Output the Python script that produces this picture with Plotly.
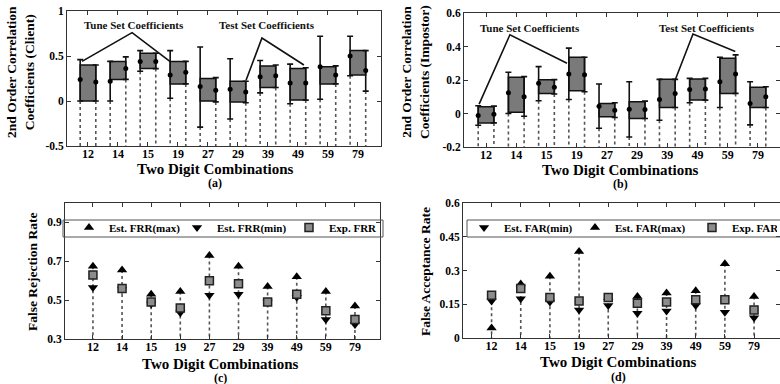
import plotly.graph_objects as go

combos = ["12", "14", "15", "19", "27", "29", "39", "49", "59", "79"]

# (a) 2nd order correlation coefficients (Client)
client_tune_lo = [0.00, 0.00, 0.33, 0.03, -0.29, -0.20, 0.09, -0.03, 0.02, 0.28]
client_tune_mean = [0.24, 0.22, 0.44, 0.29, 0.16, 0.13, 0.27, 0.20, 0.38, 0.50]
client_tune_hi = [0.46, 0.44, 0.56, 0.56, 0.60, 0.47, 0.45, 0.41, 0.72, 0.72]
client_test_lo = [0.00, 0.24, 0.36, 0.19, -0.01, -0.02, 0.15, 0.01, 0.19, 0.11]
client_test_mean = [0.21, 0.36, 0.44, 0.32, 0.12, 0.10, 0.28, 0.20, 0.29, 0.34]
client_test_hi = [0.40, 0.49, 0.53, 0.44, 0.26, 0.22, 0.40, 0.37, 0.39, 0.56]
client_box_lo = [0.00, 0.24, 0.36, 0.19, 0.00, -0.01, 0.15, 0.01, 0.19, 0.29]
client_box_hi = [0.40, 0.44, 0.53, 0.44, 0.25, 0.22, 0.39, 0.36, 0.38, 0.56]

# (b) 2nd order correlation coefficients (Impostor)
imp_tune_lo = [-0.07, 0.00, 0.076, 0.084, -0.088, -0.14, -0.04, 0.064, 0.036, -0.068]
imp_tune_mean = [-0.012, 0.124, 0.18, 0.236, 0.044, 0.026, 0.084, 0.144, 0.19, 0.06]
imp_tune_hi = [0.046, 0.246, 0.28, 0.39, 0.176, 0.19, 0.204, 0.21, 0.336, 0.19]
imp_test_lo = [-0.056, -0.016, 0.116, 0.13, -0.024, -0.03, 0.036, 0.08, 0.12, 0.036]
imp_test_mean = [-0.004, 0.10, 0.156, 0.232, 0.02, 0.024, 0.12, 0.146, 0.236, 0.10]
imp_test_hi = [0.044, 0.22, 0.202, 0.336, 0.064, 0.074, 0.204, 0.21, 0.35, 0.16]
imp_box_lo = [-0.056, 0.008, 0.12, 0.136, -0.02, -0.03, 0.036, 0.08, 0.12, 0.036]
imp_box_hi = [0.04, 0.216, 0.202, 0.336, 0.06, 0.07, 0.204, 0.206, 0.33, 0.156]

# (c) False Rejection Rate
frr_max = [0.675, 0.655, 0.53, 0.545, 0.73, 0.675, 0.57, 0.62, 0.545, 0.47]
frr_min = [0.565, 0.555, 0.48, 0.435, 0.525, 0.53, 0.49, 0.515, 0.40, 0.375]
frr_exp = [0.63, 0.56, 0.49, 0.46, 0.60, 0.585, 0.49, 0.53, 0.445, 0.40]

# (d) False Acceptance Rate
far_min = [0.165, 0.175, 0.16, 0.125, 0.145, 0.11, 0.12, 0.145, 0.115, 0.09]
far_max = [0.045, 0.24, 0.275, 0.385, 0.18, 0.185, 0.20, 0.21, 0.33, 0.185]
far_exp = [0.19, 0.22, 0.18, 0.165, 0.18, 0.155, 0.16, 0.17, 0.17, 0.125]

# axis tick labels
ticks_a = [-0.5, 0, 0.5, 1]
ticklabels_a = ["-0.5", "0", "0.5", "1"]
ticks_b = [-0.2, 0, 0.2, 0.4, 0.6]
ticklabels_b = ["-0.2", "0", "0.2", "0.4", "0.6"]
ticks_c = [0.3, 0.5, 0.7, 0.9]
ticklabels_c = ["0.3", "0.5", "0.7", "0.9"]
ticks_d = [0, 0.15, 0.3, 0.45, 0.6]
ticklabels_d = ["0", "0.15", "0.3", "0.45", "0.6"]

FONT = "Liberation Serif"
idx = list(range(len(combos)))
OFF = 0.26
STEM = dict(color="#555555", width=1.6, dash="dot")

fig = go.Figure()


def stems(xs, tops, bottom, xa, ya):
    sx, sy = [], []
    for x, t in zip(xs, tops):
        sx += [x, x, None]
        sy += [t, bottom, None]
    fig.add_trace(go.Scatter(x=sx, y=sy, mode="lines", line=STEM, showlegend=False,
                             hoverinfo="skip", xaxis=xa, yaxis=ya))


def corr_panel(tlo, tmean, thi, slo, smean, shi, blo, bhi, ymin, xa, ya):
    xl = [i - OFF for i in idx]
    xr = [i + OFF for i in idx]
    stems(xl, tlo, ymin, xa, ya)
    stems(xr, slo, ymin, xa, ya)
    fig.add_trace(go.Bar(x=idx, y=[h - l for h, l in zip(bhi, blo)], base=blo, width=2 * OFF,
                         marker=dict(color="#7a7a7a", line=dict(color="#111111", width=1.5)),
                         showlegend=False, xaxis=xa, yaxis=ya))
    for xs, lo, mean, hi in ((xl, tlo, tmean, thi), (xr, slo, smean, shi)):
        fig.add_trace(go.Scatter(
            x=xs, y=mean, mode="markers",
            marker=dict(color="black", size=5),
            error_y=dict(type="data", symmetric=False,
                         array=[h - m for h, m in zip(hi, mean)],
                         arrayminus=[m - l for m, l in zip(mean, lo)],
                         color="#111111", thickness=1.6, width=3),
            showlegend=False, xaxis=xa, yaxis=ya))


corr_panel(client_tune_lo, client_tune_mean, client_tune_hi, client_test_lo, client_test_mean,
           client_test_hi, client_box_lo, client_box_hi, ticks_a[0], "x", "y")
corr_panel(imp_tune_lo, imp_tune_mean, imp_tune_hi, imp_test_lo, imp_test_mean,
           imp_test_hi, imp_box_lo, imp_box_hi, ticks_b[0], "x2", "y2")

# (c)
stems(idx, [max(a, b, c) for a, b, c in zip(frr_max, frr_min, frr_exp)], ticks_c[0], "x3", "y3")
tri_up = dict(symbol="triangle-up", size=9, color="black")
tri_dn = dict(symbol="triangle-down", size=9, color="black")
sq = dict(symbol="square", size=8, color="#8c8c8c", line=dict(color="#222222", width=1.5))
fig.add_trace(go.Scatter(x=idx, y=frr_max, mode="markers", marker=tri_up, name="Est. FRR(max)",
                         xaxis="x3", yaxis="y3", legend="legend", legendwidth=63))
fig.add_trace(go.Scatter(x=idx, y=frr_min, mode="markers", marker=tri_dn, name="Est. FRR(min)",
                         xaxis="x3", yaxis="y3", legend="legend", legendwidth=67))
fig.add_trace(go.Scatter(x=idx, y=frr_exp, mode="markers", marker=sq, name="Exp. FRR",
                         xaxis="x3", yaxis="y3", legend="legend", legendwidth=45))

# (d)
stems(idx, [max(a, b, c) for a, b, c in zip(far_max, far_min, far_exp)], ticks_d[0], "x4", "y4")
fig.add_trace(go.Scatter(x=idx, y=far_min, mode="markers", marker=tri_dn, name="Est. FAR(min)",
                         xaxis="x4", yaxis="y4", legend="legend2", legendwidth=66))
fig.add_trace(go.Scatter(x=idx, y=far_max, mode="markers", marker=tri_up, name="Est. FAR(max)",
                         xaxis="x4", yaxis="y4", legend="legend2", legendwidth=72))
fig.add_trace(go.Scatter(x=idx, y=far_exp, mode="markers", marker=sq, name="Exp. FAR",
                         xaxis="x4", yaxis="y4", legend="legend2", legendwidth=40))

W, H = 780, 384


def px(x):
    return x / W


def py(y):
    return 1 - y / H


axis_common = dict(showline=True, linecolor="#333333", linewidth=1, mirror="allticks",
                   ticks="inside", ticklen=4, tickcolor="#333333", showgrid=False, zeroline=False,
                   tickfont=dict(family=FONT, size=12, color="black", weight="bold"))


def xaxis(dom, rng, anchor):
    return dict(axis_common, domain=dom, range=rng, tickvals=idx, ticktext=combos, anchor=anchor,
                ticklabelstandoff=-3)


def yaxis(dom, rng, tv, tt, anchor):
    d = dict(axis_common, domain=dom, range=rng, tickvals=tv, ticktext=tt, anchor=anchor)
    d["tickfont"] = dict(family=FONT, size=11.5, color="black", weight="bold")
    return d


legend_common = dict(orientation="h", xanchor="left", yanchor="top", bgcolor="rgba(255,255,255,0)",
                     borderwidth=0, itemclick=False,
                     font=dict(family=FONT, size=11, color="black", weight="bold"),
                     tracegroupgap=0)

fig.update_layout(
    width=W, height=H, margin=dict(l=0, r=0, t=0, b=0, autoexpand=False),
    paper_bgcolor="white", plot_bgcolor="white", barmode="overlay",
    xaxis=xaxis([px(67), px(381)], [-0.7, 9.77], "y"),
    yaxis=yaxis([py(146), py(11)], [-0.5, 1.0], ticks_a, ticklabels_a, "x"),
    xaxis2=xaxis([px(464), 1.0], [-0.73, 9.73], "y2"),
    yaxis2=yaxis([py(147), py(13)], [-0.2, 0.6], ticks_b, ticklabels_b, "x2"),
    xaxis3=xaxis([px(65), px(380)], [-0.96, 9.86], "y3"),
    yaxis3=yaxis([py(339), py(203)], [0.3, 1.0], ticks_c, ticklabels_c, "x3"),
    xaxis4=xaxis([px(463), 1.0], [-0.98, 9.89], "y4"),
    yaxis4=yaxis([py(338), py(203)], [0.0, 0.6], ticks_d, ticklabels_d, "x4"),
    legend=dict(legend_common, x=px(69), y=py(213)),
    legend2=dict(legend_common, x=px(464), y=py(213)),
    showlegend=True,
)

# legend frames
frame = dict(color="#555555", width=1)
fig.add_shape(type="rect", x0=px(63), x1=px(383), y0=py(237), y1=py(220), xref="paper", yref="paper", line=frame)
fig.add_shape(type="rect", x0=px(467), x1=px(790), y0=py(237), y1=py(220), xref="paper", yref="paper", line=frame)

# callout lines
line_style = dict(color="#111111", width=1.6)
fig.add_shape(type="path", path="M -0.2,0.44 L 1.47,0.76 L 2.73,0.44", xref="x", yref="y", line=line_style)
fig.add_shape(type="path", path="M 5.27,0.23 L 5.8,0.70 L 7.2,0.40", xref="x", yref="y", line=line_style)
fig.add_shape(type="path", path="M -0.23,0.056 L 0.79,0.47 L 2.68,0.30", xref="x2", yref="y2", line=line_style)
fig.add_shape(type="path", path="M 6.26,0.2 L 6.85,0.475 L 8.25,0.37", xref="x2", yref="y2", line=line_style)

ann_font = dict(family=FONT, size=11, color="#111111", weight="bold")
for txt, x, y, xr, yr in (("Tune Set Coefficients", 1.53, 0.84, "x", "y"),
                          ("Test Set Coefficients", 5.97, 0.84, "x", "y"),
                          ("Tune Set Coefficients", 1.46, 0.51, "x2", "y2"),
                          ("Test Set Coefficients", 7.32, 0.51, "x2", "y2")):
    fig.add_annotation(text=txt, x=x, y=y, xref=xr, yref=yr, showarrow=False, font=ann_font,
                       xanchor="center", yanchor="middle")

title_font = dict(family=FONT, size=15, color="black", weight="bold")
sub_font = dict(family=FONT, size=12, color="black", weight="bold")
ytitle_font = dict(family=FONT, size=13.5, color="black", weight="bold")
for cx, ty, sy, lab in ((215, 169, 183, "(a)"), (620, 170, 184, "(b)"),
                        (220, 364, 378, "(c)"), (618, 362, 377, "(d)")):
    fig.add_annotation(text="Two Digit Combinations", x=px(cx), y=py(ty), xref="paper", yref="paper",
                       showarrow=False, font=title_font, xanchor="center", yanchor="middle")
    fig.add_annotation(text=lab, x=px(cx), y=py(sy), xref="paper", yref="paper",
                       showarrow=False, font=sub_font, xanchor="center", yanchor="middle")

for txt, cx, cy in (("2nd Order Correlation<br>Coefficients (Client)", 20, 72),
                    ("2nd Order Correlation<br>Coefficients (Impostor)", 415, 72),
                    ("False Rejection Rate", 32, 272),
                    ("False Acceptance Rate", 425, 271)):
    fig.add_annotation(text=txt, x=px(cx), y=py(cy), xref="paper", yref="paper", textangle=-90,
                       showarrow=False, font=ytitle_font, xanchor="center", yanchor="middle")

fig.write_html("out.html", config={"displayModeBar": False},
               post_script="document.body.style.margin='0px';")
